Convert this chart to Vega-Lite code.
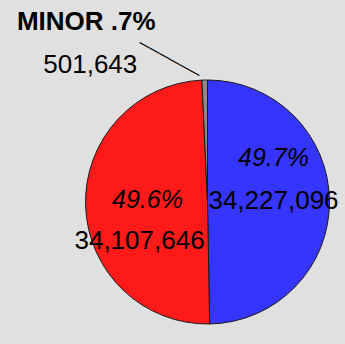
{
  "$schema": "https://vega.github.io/schema/vega-lite/v6.json",
  "width": 275,
  "height": 284,
  "autosize": {"type": "none"},
  "padding": {"left": 70, "top": 60, "right": 0, "bottom": 0},
  "background": "#e0e0e0",
  "config": {"view": {"stroke": null}, "text": {"font": "Liberation Sans, Arial, sans-serif", "baseline": "middle", "align": "center"}},
  "data": {"values": [
    {"party": "Blue", "rank": 1, "votes": 34227096, "pct": "49.7%", "num": "34,227,096"},
    {"party": "Red", "rank": 2, "votes": 34107646, "pct": "49.6%", "num": "34,107,646"},
    {"party": "Minor", "rank": 3, "votes": 501643, "pct": "MINOR .7%", "num": "501,643"}
  ]},
  "encoding": {
    "theta": {"field": "votes", "type": "quantitative", "stack": true},
    "order": {"field": "rank", "type": "quantitative"}
  },
  "layer": [
    {
      "mark": {"type": "arc", "outerRadius": 122, "stroke": "#1a1a1a", "strokeWidth": 1},
      "encoding": {
        "color": {"field": "party", "type": "nominal", "legend": null,
          "scale": {"domain": ["Blue", "Red", "Minor"], "range": ["#3535ff", "#ff1a1a", "#8a8a8a"]}}
      }
    },
    {
      "mark": {"type": "text", "radius": 66, "fontSize": 25, "fontStyle": "italic", "dy": -43, "fill": "#000"},
      "encoding": {"text": {"condition": {"test": "datum.party === 'Blue'", "field": "pct"}, "value": ""}}
    },
    {
      "mark": {"type": "text", "radius": 66, "fontSize": 26, "dy": 0, "fill": "#000"},
      "encoding": {"text": {"condition": {"test": "datum.party === 'Blue'", "field": "num"}, "value": ""}}
    },
    {
      "mark": {"type": "text", "radius": 60, "fontSize": 25, "dy": -4, "fontStyle": "italic", "fill": "#000"},
      "encoding": {"text": {"condition": {"test": "datum.party === 'Red'", "field": "pct"}, "value": ""}}
    },
    {
      "mark": {"type": "text", "radius": 60, "fontSize": 26, "dx": -8, "dy": 37, "fill": "#000"},
      "encoding": {"text": {"condition": {"test": "datum.party === 'Red'", "field": "num"}, "value": ""}}
    },
    {
      "mark": {"type": "text", "radius": 140, "fontSize": 26, "fontWeight": "bold", "dx": -118, "dy": -40, "fill": "#000"},
      "encoding": {"text": {"condition": {"test": "datum.party === 'Minor'", "field": "pct"}, "value": ""}}
    },
    {
      "mark": {"type": "text", "radius": 140, "fontSize": 26, "dx": -114, "dy": 3, "fill": "#000"},
      "encoding": {"text": {"condition": {"test": "datum.party === 'Minor'", "field": "num"}, "value": ""}}
    },
    {
      "mark": {"type": "text", "radius": 140, "fontSize": 16, "angle": 29, "dx": -32, "dy": 14, "fill": "#000"},
      "encoding": {"text": {"condition": {"test": "datum.party === 'Minor'", "value": "──────"}, "value": ""}}
    }
  ]
}
